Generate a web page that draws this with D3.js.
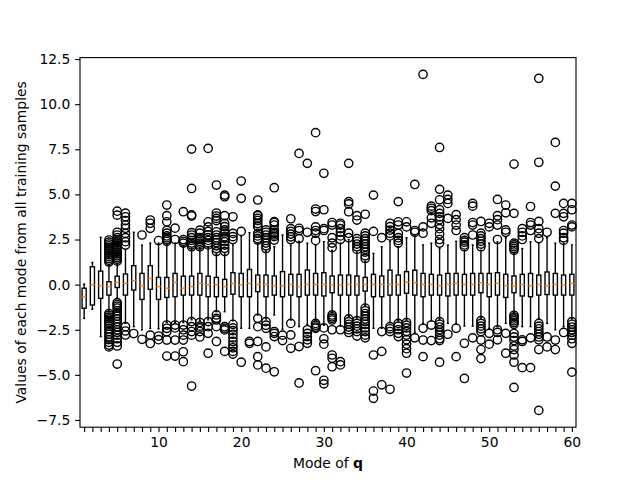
<!DOCTYPE html>
<html>
<head>
<meta charset="utf-8">
<script src="https://cdn.jsdelivr.net/npm/d3@7"></script>
<style>
  body { margin: 0; background: #fff; }
  svg { display: block; font-family: 'DejaVu Sans', sans-serif; }
</style>
</head>
<body>
<svg id="chart"></svg>
<script>
const modes = d3.range(1, 61)
const xTickLabels = [10, 20, 30, 40, 50, 60]
const yTicks = [-7.5, -5.0, -2.5, 0.0, 2.5, 5.0, 7.5, 10.0, 12.5]

// box stats per mode
const q1 = [-1.31, -1.13, -0.76, -0.58, -0.16, -0.58, -0.30, -0.82, -0.26, -0.82,
            -0.71, -0.67, -0.58, -0.58, -0.58, -0.67, -0.67, -0.67, -0.53, -0.67,
            -0.67, -0.39, -0.67, -0.58, -0.67, -0.58, -0.67, -0.58, -0.58, -0.63,
            -0.45, -0.58, -0.58, -0.58, -0.36, -0.67, -0.67, -0.58, -0.58, -0.48,
            -0.58, -0.67, -0.58, -0.58, -0.63, -0.58, -0.58, -0.58, -0.45, -0.67,
            -0.58, -0.71, -0.45, -0.63, -0.67, -0.58, -0.55, -0.58, -0.58, -0.58]
const medians = [-0.67, 0.00, -0.06, -0.11, 0.12, 0.07, 0.23, -0.05, 0.34, -0.11,
                 -0.20, 0.12, -0.20, -0.11, 0.07, 0.00, 0.00, -0.11, 0.07, -0.02,
                 0.07, 0.01, 0.01, -0.06, -0.06, 0.01, -0.11, 0.01, 0.01, 0.01,
                 -0.02, -0.02, 0.01, 0.01, 0.01, 0.01, 0.01, 0.01, 0.01, 0.13,
                 0.11, 0.01, 0.01, -0.06, 0.01, 0.07, 0.01, 0.01, 0.11, 0.01,
                 0.07, -0.06, -0.06, 0.01, -0.06, 0.01, -0.06, 0.01, -0.02, 0.07]
const q3 = [-0.20, 0.99, 0.75, 0.16, 0.47, 0.59, 1.05, 0.62, 1.05, 0.40,
            0.40, 0.62, 0.47, 0.47, 0.62, 0.47, 0.40, 0.29, 0.66, 0.62,
            0.84, 0.53, 0.53, 0.48, 0.72, 0.57, 0.57, 0.81, 0.62, 0.66,
            0.48, 0.53, 0.53, 0.48, 0.40, 0.57, 0.48, 0.80, 0.53, 0.72,
            0.80, 0.62, 0.57, 0.53, 0.62, 0.62, 0.57, 0.62, 0.62, 0.62,
            0.66, 0.57, 0.48, 0.57, 0.62, 0.53, 0.70, 0.62, 0.53, 0.57]
const whiskerLo = [-1.87, -1.37, -2.88, -1.50, -0.75, -2.15, -2.33, -2.51, -2.43, -2.45,
                   -2.10, -2.10, -2.10, -1.95, -2.00, -1.95, -1.50, -1.50, -2.00, -2.42,
                   -2.42, -1.68, -1.90, -1.68, -2.47, -1.96, -2.33, -2.20, -2.00, -2.25,
                   -1.55, -2.30, -1.75, -1.85, -1.15, -2.42, -2.42, -2.10, -2.00, -1.95,
                   -2.65, -2.15, -2.00, -1.95, -2.15, -2.15, -2.30, -2.30, -1.85, -2.42,
                   -2.33, -2.15, -1.55, -2.33, -2.33, -1.87, -2.15, -2.50, -2.33, -1.90]
const whiskerHi = [0.03, 1.23, 2.62, 1.08, 1.10, 1.95, 2.90, 2.19, 2.30, 2.30,
                   2.20, 2.30, 2.10, 2.00, 2.00, 2.10, 1.70, 1.70, 2.20, 2.70,
                   2.88, 2.30, 1.85, 2.10, 2.75, 2.19, 2.40, 2.30, 2.20, 2.38,
                   1.90, 2.30, 2.50, 1.80, 1.30, 1.73, 2.10, 2.40, 2.10, 2.60,
                   2.70, 2.20, 2.30, 2.00, 2.19, 2.40, 1.90, 2.20, 1.90, 2.30,
                   2.38, 2.60, 1.75, 2.00, 2.38, 2.30, 2.60, 2.30, 2.30, 2.20]
const fliers = [
  [],
  [],
  [],
  [2.47, 2.35, 2.25, 2.15, 2.05, 1.95, 1.85, 1.75, 1.65, 1.55, 1.45, 1.35, 1.25, -1.6, -1.7, -1.8, -1.9, -2.0, -2.1, -2.2, -2.3, -2.45, -2.6, -2.75, -2.9, -3.05, -3.2, -3.35, -3.45],
  [4.07, 3.85, 2.9, 2.75, 2.6, 2.5, 2.4, 2.3, 2.2, 2.1, 2.0, 1.9, 1.8, 1.7, 1.6, 1.5, 1.4, 1.3, -1.0, -1.1, -1.2, -1.3, -1.45, -1.6, -1.75, -1.9, -2.05, -2.2, -2.35, -2.5, -2.65, -2.8, -3.0, -3.2, -3.4, -4.4],
  [3.96, 3.76, 3.55, 3.3, 3.12, 2.84, 2.6, 2.38, 2.19, -2.33, -2.57, -2.79],
  [-2.71],
  [2.75, -3.03],
  [3.58, 3.4, 3.12, -2.8, -3.26],
  [2.44, -2.85, -3.05],
  [4.41, 3.82, 3.48, 3.0, 2.85, 2.7, 2.6, 2.5, 2.4, -2.24, -2.42, -2.61, -3.07, -3.96],
  [3.13, 2.5, -2.24, -2.4, -3.07, -3.96],
  [4.04, 2.5, 2.4, 2.3, -2.24, -2.5, -2.8, -3.07, -3.72, -4.27],
  [7.51, 5.33, 3.86, 3.8, 2.88, 2.75, 2.6, 2.45, 2.3, 2.2, 2.1, -2.05, -2.33, -2.6, -2.8, -5.62],
  [3.02, 2.85, 2.6, 2.5, 2.4, 2.3, 2.2, 2.1, -2.1, -2.3, -2.4, -2.6, -2.9],
  [7.55, 3.48, 3.2, 2.95, 2.75, 2.6, 2.45, 2.3, 2.2, -2.05, -2.33, -2.7, -3.8],
  [5.52, 3.97, 3.8, 3.67, 3.55, 2.93, 2.75, 2.6, 2.47, 2.33, 2.15, 2.0, 1.83, -1.68, -1.87, -1.96, -2.33, -3.15],
  [4.96, 4.87, 3.82, 3.39, 3.21, 3.03, 2.93, 2.84, 2.66, 2.56, 2.38, 2.19, 2.01, 1.83, -2.33, -2.42, -2.51, -3.7],
  [3.76, 2.84, 2.66, 2.5, -2.2, -2.4, -2.55, -2.75, -2.95, -3.15, -3.35, -3.5, -3.7, -3.85],
  [5.74, 4.78, 2.95, -4.3],
  [-3.15, -3.25],
  [4.69, 3.86, 3.82, 3.67, 3.55, 3.39, 3.24, 3.21, 2.84, 2.7, 2.56, 2.47, -1.87, -2.33, -3.15, -3.99, -4.45],
  [3.03, 2.9, 2.75, 2.6, 2.45, 2.3, 2.15, 2.0, -2.05, -2.25, -2.42, -3.45, -4.63],
  [5.37, 3.49, 3.44, 3.3, 3.03, 2.9, 2.84, 2.75, 2.66, 2.47, -2.6, -2.7, -2.88, -4.83],
  [-2.8, -3.1],
  [3.65, 3.1, 2.95, 2.8, 2.65, 2.5, -2.15, -2.79, -3.53],
  [7.27, 3.12, 3.0, 2.55, -3.43, -5.45],
  [6.72, 2.9, -2.5, -2.7, -2.88, -3.06, -3.25],
  [8.42, 4.19, 4.05, 3.2, 3.0, 2.85, 2.45, -2.15, -2.25, -2.35, -2.42, -4.77],
  [6.17, 4.15, 3.1, 3.0, -2.4, -3.0, -3.3, -5.3, -5.5],
  [3.44, 3.3, 2.6, 2.3, 2.05, -1.68, -1.78, -1.87, -1.96, -2.5, -3.9, -4.08, -4.55],
  [3.4, 3.3, 3.1, 2.9, 2.7, 2.5, -2.5, -4.27, -4.45],
  [6.72, 4.6, 4.47, 4.04, 2.85, 2.6, -1.9, -2.05, -2.2, -2.35, -2.5, -2.65],
  [3.82, 3.58, 2.55, 2.4, 2.25, 2.1, 1.95, -2.0, -2.15, -2.3, -2.45, -2.6, -2.85],
  [3.9, 2.85, 2.7, 2.55, 2.4, 2.25, 2.1, 1.95, 1.8, 1.6, 1.45, -1.3, -1.45, -1.6, -1.75, -1.9, -2.05, -2.2, -2.4, -2.6, -2.8, -2.95],
  [4.96, 2.95, -3.9, -5.9, -6.3],
  [2.6, -2.6, -3.7, -5.55],
  [3.4, 3.21, 3.02, 2.85, 2.7, -2.33, -2.45, -2.6, -5.8],
  [4.6, 3.48, 3.3, 2.84, 2.6, 2.45, 2.3, -2.15, -2.3, -2.5, -2.7, -2.88],
  [3.48, 3.2, -2.1, -2.25, -2.4, -2.6, -2.8, -3.05, -3.3, -3.55, -3.8, -4.9],
  [5.55, 3.0, 2.9, -2.95],
  [11.65, 3.2, 2.85, -2.42, -3.07, -3.99],
  [4.35, 4.23, 4.1, 3.7, 3.4, -2.24, -3.1],
  [7.6, 5.28, 4.7, 4.15, 3.95, 3.76, 3.6, 3.33, 3.1, 2.8, 2.5, 2.3, -2.05, -2.2, -2.35, -2.5, -2.65, -2.8, -3.0, -3.1, -4.3],
  [4.96, 4.72, 4.5, 3.67, -2.75],
  [3.88, 3.6, 3.3, 3.0, -2.42, -3.99],
  [2.6, 2.45, 2.35, 2.2, 2.1, -3.25, -5.2],
  [4.5, 4.35, 3.44, 3.3, 2.75, -2.95],
  [3.5, 2.85, 2.7, 2.55, 2.4, 2.25, 2.1, -2.0, -2.15, -2.3, -2.45, -2.6, -3.07, -3.6, -4.1],
  [3.4, 3.2, -2.7, -3.3],
  [4.72, 3.82, 3.6, 3.3, 2.5, -2.5, -2.65, -3.06],
  [4.41, 3.98, 3.03, 2.9, -2.7, -3.8],
  [6.68, 3.95, 2.3, 2.2, 2.1, 2.0, 1.9, -1.7, -1.8, -1.9, -2.0, -2.1, -2.2, -2.7, -2.9, -3.1, -3.4, -3.6, -3.9, -4.3, -5.7],
  [3.1, 2.9, 2.7, 2.5, -3.06, -3.15, -4.6],
  [4.33, 3.44, 3.3, 3.0, -2.95, -4.6],
  [11.43, 6.78, 3.5, 3.1, 2.85, 2.55, -2.15, -2.3, -2.45, -2.6, -2.75, -2.9, -3.06, -3.6, -6.97],
  [2.9, -2.9, -3.45],
  [7.88, 5.46, 3.95, -3.07, -3.6],
  [4.5, 3.95, 3.76, 3.0, 2.85, 2.6, 2.45, -2.65],
  [4.5, 4.15, 3.3, 3.2, -2.05, -2.2, -2.35, -2.5, -2.65, -2.8, -3.0, -3.25, -4.85]
]

const width = 640
const height = 480
const margin = { top: 57.6, right: 64, bottom: 52.8, left: 80 }
const pt = 100 / 72

const svg = d3.select('#chart')
    .attr('width', width)
    .attr('height', height)

const boxes = modes.map((m, i) => ({
    mode: m, q1: q1[i], med: medians[i], q3: q3[i],
    lo: whiskerLo[i], hi: whiskerHi[i], out: fliers[i]
}))

let allVals = boxes.flatMap(d => [d.lo, d.hi, ...d.out])
let yMin = d3.min(allVals), yMax = d3.max(allVals)
let pad = (yMax - yMin) * 0.05

const xScale = d3.scaleLinear()
    .domain([0.5, 60.5])
    .range([margin.left, width - margin.right])

const yScale = d3.scaleLinear()
    .domain([yMin - pad, yMax + pad])
    .range([height - margin.bottom, margin.top])

const boxW = xScale(1.25) - xScale(1)
const capW = xScale(1.125) - xScale(1)
const lw = 1 * pt

const g = svg.append('g')

// whiskers + caps
g.selectAll('.whisker-lo')
    .data(boxes).enter().append('line')
    .attr('x1', d => xScale(d.mode)).attr('x2', d => xScale(d.mode))
    .attr('y1', d => yScale(d.q1)).attr('y2', d => yScale(d.lo))
    .attr('stroke', 'black').attr('stroke-width', lw)
g.selectAll('.whisker-hi')
    .data(boxes).enter().append('line')
    .attr('x1', d => xScale(d.mode)).attr('x2', d => xScale(d.mode))
    .attr('y1', d => yScale(d.q3)).attr('y2', d => yScale(d.hi))
    .attr('stroke', 'black').attr('stroke-width', lw)
g.selectAll('.cap-lo')
    .data(boxes).enter().append('line')
    .attr('x1', d => xScale(d.mode) - capW).attr('x2', d => xScale(d.mode) + capW)
    .attr('y1', d => yScale(d.lo)).attr('y2', d => yScale(d.lo))
    .attr('stroke', 'black').attr('stroke-width', lw)
g.selectAll('.cap-hi')
    .data(boxes).enter().append('line')
    .attr('x1', d => xScale(d.mode) - capW).attr('x2', d => xScale(d.mode) + capW)
    .attr('y1', d => yScale(d.hi)).attr('y2', d => yScale(d.hi))
    .attr('stroke', 'black').attr('stroke-width', lw)

// boxes
g.selectAll('.box')
    .data(boxes).enter().append('rect')
    .attr('x', d => xScale(d.mode) - boxW)
    .attr('width', boxW * 2)
    .attr('y', d => yScale(d.q3))
    .attr('height', d => yScale(d.q1) - yScale(d.q3))
    .attr('fill', 'none')
    .attr('stroke', 'black').attr('stroke-width', lw)

// medians
g.selectAll('.median')
    .data(boxes).enter().append('line')
    .attr('x1', d => xScale(d.mode) - boxW).attr('x2', d => xScale(d.mode) + boxW)
    .attr('y1', d => yScale(d.med)).attr('y2', d => yScale(d.med))
    .attr('stroke', '#ff7f0e').attr('stroke-width', lw)

// fliers
let flierPts = boxes.flatMap(d => d.out.map(v => ({ mode: d.mode, v: v })))
g.selectAll('.flier')
    .data(flierPts).enter().append('circle')
    .attr('cx', d => xScale(d.mode))
    .attr('cy', d => yScale(d.v))
    .attr('r', 3 * pt)
    .attr('fill', 'none')
    .attr('stroke', 'black').attr('stroke-width', lw)

// axes
const fontPx = 10 * pt
let xAxis = d3.axisBottom(xScale)
    .tickValues(modes)
    .tickSize(3.5 * pt)
    .tickPadding(3.5 * pt)
    .tickFormat(d => xTickLabels.includes(d) ? d : '')
let yAxis = d3.axisLeft(yScale)
    .tickValues(yTicks)
    .tickSize(3.5 * pt)
    .tickPadding(3.5 * pt)
    .tickFormat(d => d3.format('.1f')(d).replace('-', '\u2212'))

let xg = svg.append('g')
    .attr('transform', `translate(0, ${height - margin.bottom})`)
    .call(xAxis)
let yg = svg.append('g')
    .attr('transform', `translate(${margin.left}, 0)`)
    .call(yAxis)

;[xg, yg].forEach(a => {
    a.select('.domain').remove()
    a.selectAll('.tick line').attr('stroke', 'black').attr('stroke-width', 0.8 * pt)
    a.selectAll('.tick text')
        .attr('fill', 'black')
        .style('font-size', fontPx + 'px')
        .style('font-family', 'DejaVu Sans')
})

// spines
svg.append('rect')
    .attr('x', margin.left)
    .attr('y', margin.top)
    .attr('width', width - margin.left - margin.right)
    .attr('height', height - margin.top - margin.bottom)
    .attr('fill', 'none')
    .attr('stroke', 'black')
    .attr('stroke-width', 0.8 * pt)

// labels
let xl = svg.append('text')
    .attr('x', (margin.left + width - margin.right) / 2)
    .attr('y', 468)
    .attr('text-anchor', 'middle')
    .style('font-size', fontPx + 'px')
xl.append('tspan').text('Mode of ')
xl.append('tspan').attr('font-weight', 'bold').text('q')

svg.append('text')
    .attr('transform', `translate(26, ${(margin.top + height - margin.bottom) / 2}) rotate(-90)`)
    .attr('text-anchor', 'middle')
    .style('font-size', fontPx + 'px')
    .text('Values of each mode from all training samples')
</script>
</body>
</html>
